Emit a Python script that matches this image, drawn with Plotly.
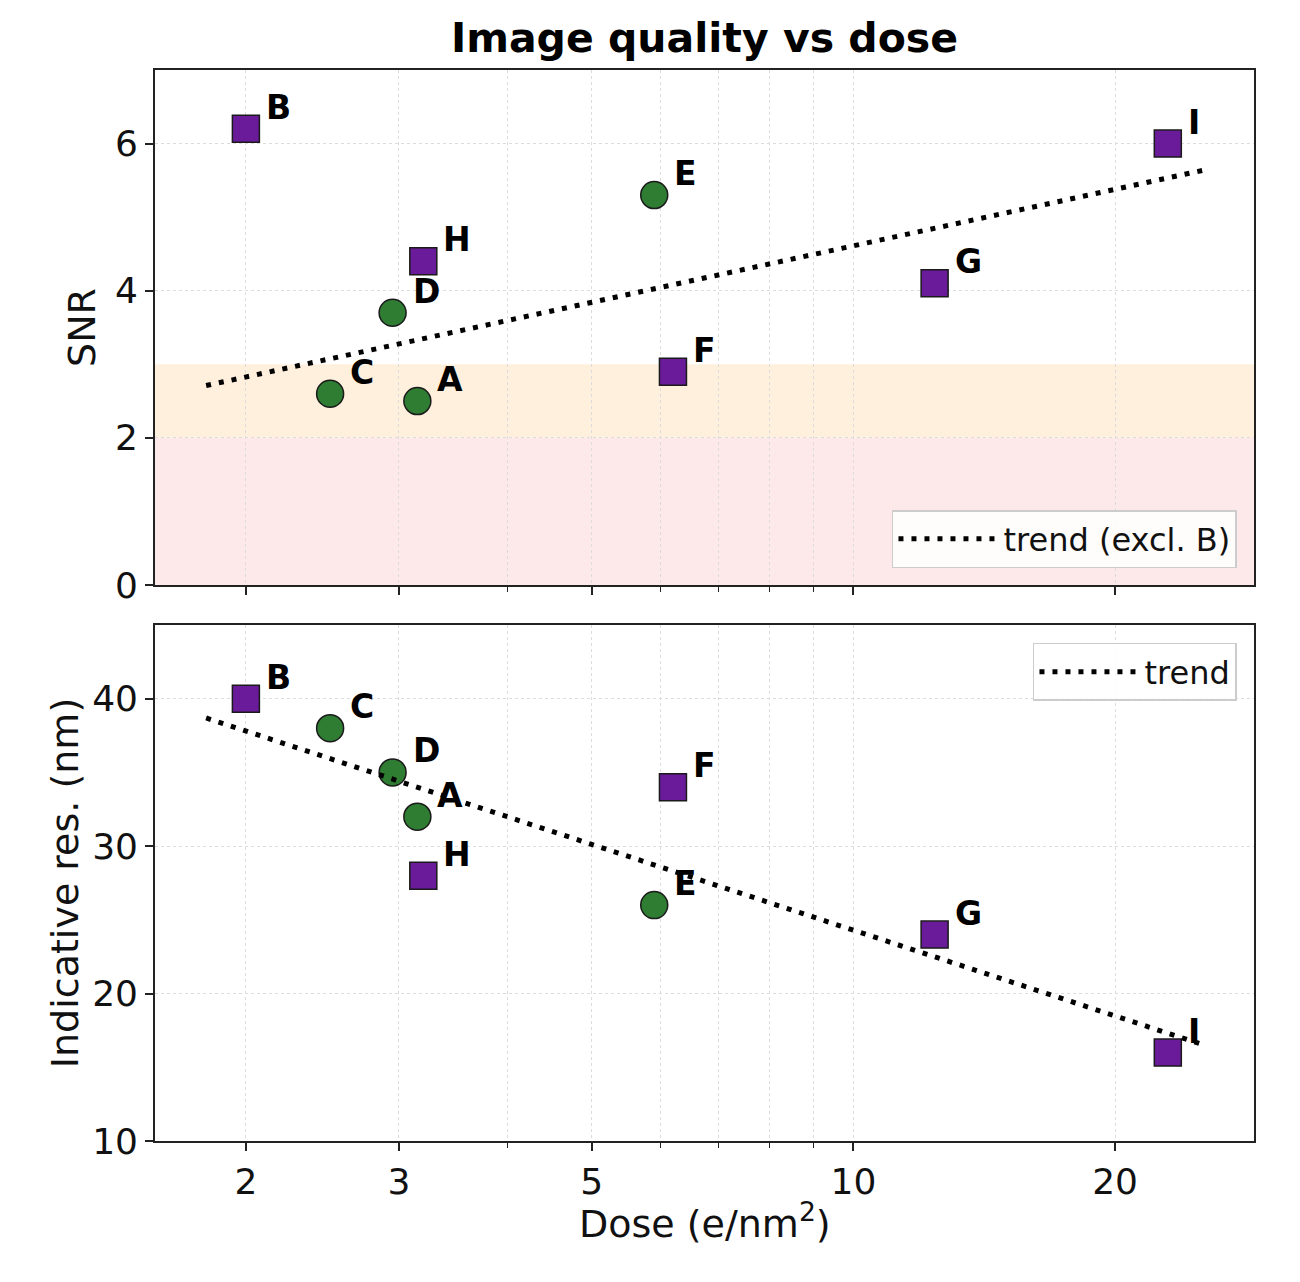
import numpy as np
import plotly.graph_objects as go
from plotly.subplots import make_subplots

# ---- data ----
labels = ["A", "B", "C", "D", "E", "F", "G", "H", "I"]
dose = [3.15, 2.0, 2.5, 2.95, 5.9, 6.2, 12.4, 3.2, 23.0]
snr = [2.5, 6.2, 2.6, 3.7, 5.3, 2.9, 4.1, 4.4, 6.0]
res_nm = [32, 40, 38, 35, 26, 34, 24, 28, 16]
kind = ["circle", "square", "circle", "circle", "circle", "square", "square", "square", "square"]

x_ticks = [2, 3, 5, 10, 20]
x_minor = [4, 6, 7, 8, 9]
snr_ticks = [0, 2, 4, 6]
res_ticks = [10, 20, 30, 40]

GREEN = "#2e7d32"
PURPLE = "#6a1b9a"
FONT = "DejaVu Sans"

fig = make_subplots(rows=2, cols=1, shared_xaxes=True)

def fit_line(xs, ys):
    lx = np.log10(xs)
    b, a = np.polyfit(lx, ys, 1)
    xl = np.array([min(dose) * 0.9, max(dose) * 1.1])
    return xl, a + b * np.log10(xl)

for shape, col in [("circle", GREEN), ("square", PURPLE)]:
    idx = [i for i, k in enumerate(kind) if k == shape]
    for row, yv in [(1, snr), (2, res_nm)]:
        fig.add_trace(go.Scatter(
            x=[dose[i] for i in idx], y=[yv[i] for i in idx], mode="markers",
            marker=dict(symbol=shape, size=27, color=col, line=dict(color="#1a1a1a", width=1.5)),
            showlegend=False, hoverinfo="skip"), row=row, col=1)

DASH = dict(color="black", width=5, dash="5px,8px")
ex = [i for i, l in enumerate(labels) if l != "B"]
xl, yl = fit_line([dose[i] for i in ex], [snr[i] for i in ex])
fig.add_trace(go.Scatter(x=xl, y=yl, mode="lines", name="trend (excl. B)",
                         line=DASH, legend="legend", hoverinfo="skip"), row=1, col=1)
xl2, yl2 = fit_line(dose, res_nm)
fig.add_trace(go.Scatter(x=xl2, y=yl2, mode="lines", name="trend",
                         line=DASH, legend="legend2", hoverinfo="skip"), row=2, col=1)

for row, yv, xr_, yr_ in [(1, snr, "x", "y"), (2, res_nm, "x2", "y2")]:
    for l, d, v in zip(labels, dose, yv):
        fig.add_annotation(x=np.log10(d), y=v, xref=xr_, yref=yr_, text="<b>%s</b>" % l,
                           showarrow=False, xanchor="left", yanchor="bottom",
                           xshift=18, yshift=0, font=dict(family=FONT, size=33, color="black"))

# x axis title as annotation, just below the tick labels
fig.add_annotation(x=0.5, y=-53 / 1071, xref="paper", yref="paper", text="Dose (e/nm<sup>2</sup>)",
                   showarrow=False, xanchor="center", yanchor="top",
                   font=dict(family=FONT, size=38, color="#111"))

fig.add_shape(type="rect", xref="x domain", yref="y", x0=0, x1=1, y0=0, y1=2,
              fillcolor="#fde8ea", line_width=0, layer="below")
fig.add_shape(type="rect", xref="x domain", yref="y", x0=0, x1=1, y0=2, y1=3,
              fillcolor="#fff0de", line_width=0, layer="below")

axis_common = dict(showline=True, linecolor="#222", linewidth=1.6, mirror=True,
                   ticks="outside", ticklen=8, tickwidth=1.5, tickcolor="#222",
                   showgrid=True, gridcolor="#dcdcdc", griddash="dot", gridwidth=1,
                   zeroline=False, tickfont=dict(family=FONT, size=36, color="#111"))

xr = [np.log10(1.572), np.log10(28.9)]
minor = dict(tickmode="array", tickvals=x_minor, ticks="outside", ticklen=5,
             tickwidth=1.2, tickcolor="#222", showgrid=True, gridcolor="#dcdcdc", griddash="dot")
fig.update_xaxes(type="log", range=xr, tickmode="array", tickvals=x_ticks,
                 ticktext=[str(t) for t in x_ticks], minor=minor, **axis_common)
fig.update_xaxes(showticklabels=False, row=1, col=1)
fig.update_yaxes(range=[0, 7], tickmode="array", tickvals=snr_ticks,
                 title=dict(text="SNR", font=dict(family=FONT, size=38, color="#111"), standoff=8),
                 row=1, col=1, **axis_common)
fig.update_yaxes(range=[10, 45], tickmode="array", tickvals=res_ticks,
                 title=dict(text="Indicative res. (nm)", font=dict(family=FONT, size=38, color="#111"), standoff=2),
                 row=2, col=1, **axis_common)

legend_common = dict(bgcolor="rgba(255,255,255,0.85)", bordercolor="#cccccc", borderwidth=1.5,
                     font=dict(family=FONT, size=32, color="#111"), itemwidth=100)
fig.update_layout(
    width=1300, height=1282,
    margin=dict(l=155, r=46, t=70, b=141),
    paper_bgcolor="white", plot_bgcolor="white",
    title=dict(text="<b>Image quality vs dose</b>", x=0.5, xref="paper", y=1 - 38 / 1282,
               yref="container", xanchor="center", yanchor="middle",
               font=dict(family=FONT, size=41, color="black")),
    legend=dict(x=0.9845, y=0.535, xanchor="right", yanchor="bottom", **legend_common),
    legend2=dict(x=0.9845, y=0.465, xanchor="right", yanchor="top", **legend_common),
)
fig.update_layout(yaxis=dict(domain=[556 / 1071, 1.0]), yaxis2=dict(domain=[0, 516 / 1071]))

fig.write_html("out.html")
